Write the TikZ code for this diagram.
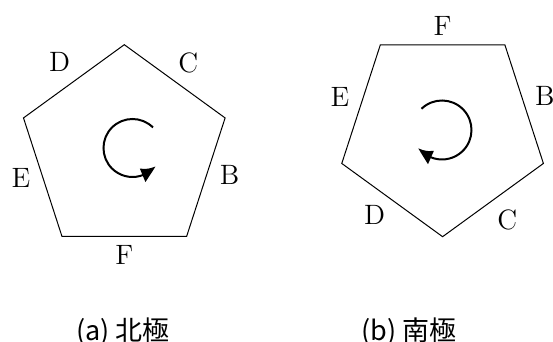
\documentclass[tikz,border=0pt]{standalone}
\usepackage{fontspec}
\newfontfamily\cjk{Noto Sans CJK JP}
\usetikzlibrary{arrows.meta,bending,shapes.geometric}

\begin{document}
\begin{tikzpicture}[x=0.5pt,y=0.5pt,
        face/.style={draw,regular polygon,regular polygon sides=5,minimum size=106pt,inner sep=0pt,outer sep=0pt,line width=0.5pt},
        lbl/.style={font=\fontsize{14}{17}\selectfont,inner sep=0pt},
        spin/.style={-{Latex[length=8pt,width=7.5pt,bend]},line width=1pt},
        caption/.style={font=\cjk\fontsize{13.5}{16}\selectfont}
      ]
        \useasboundingbox (0,0) rectangle (553,342);

        \node[face] (north) at (124.3,191.3) {};
        \node[lbl] (nD) at ([shift={(126:110)}]north.center) {D};
        \node[lbl] (nC) at ([shift={(54:109)}]north.center) {C};
        \node[lbl] (nE) at ([shift={(195:107)}]north.center) {E};
        \node[lbl] (nB) at ([shift={(347:108)}]north.center) {B};
        \node[lbl] (nF) at ([shift={(270:104)}]north.center) {F};
        \coordinate (nc) at (132.5,194);
        \draw[spin] ([shift={(45:29)}]nc) arc[start angle=45,end angle=322,radius=14.5pt];

        \node[face,shape border rotate=180] (south) at (442.6,211.3) {};
        \node[lbl] (sF) at ([shift={(90:105)}]south.center) {F};
        \node[lbl] (sE) at ([shift={(162:108)}]south.center) {E};
        \node[lbl] (sB) at ([shift={(19:108)}]south.center) {B};
        \node[lbl] (sD) at ([shift={(231:108)}]south.center) {D};
        \node[lbl] (sC) at ([shift={(306:110)}]south.center) {C};
        \coordinate (sc) at (442,212);
        \draw[spin] ([shift={(134:29.5)}]sc) arc[start angle=134,end angle=-143,radius=14.75pt];

        \node[caption] (capN) at (123,10) {(a)\ 北極};
        \node[caption] (capS) at (409,10) {(b)\ 南極};
      \end{tikzpicture}
\end{document}
